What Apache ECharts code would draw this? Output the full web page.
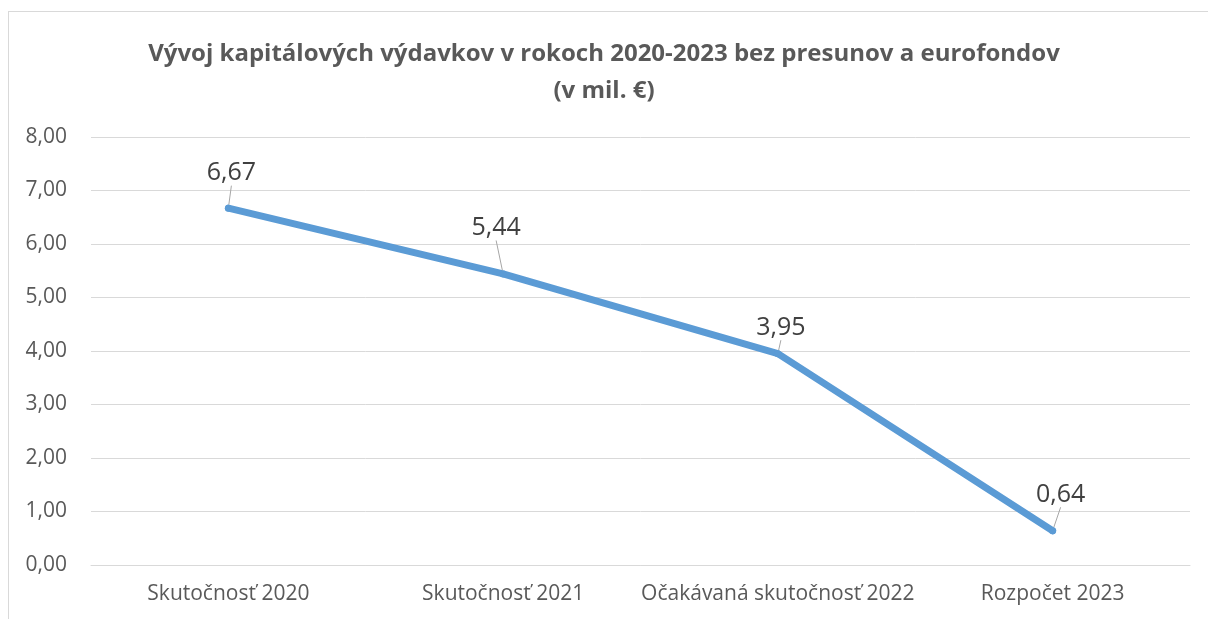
<!DOCTYPE html>
<html>
<head>
<meta charset="utf-8">
<script src="https://cdn.jsdelivr.net/npm/echarts@6/dist/echarts.min.js"></script>
<style>
  html, body { margin: 0; padding: 0; background: #fff; overflow: hidden; }
  #frame { position: absolute; left: 8px; top: 11px; right: 0; bottom: 0; border-left: 1px solid #d9d9d9; border-top: 1px solid #d9d9d9; }
  #chart { position: absolute; left: 0; top: 0; width: 1208px; height: 619px; }
</style>
</head>
<body>
<div id="frame"></div>
<div id="chart"></div>
<script>
const categories = ['Skutočnosť 2020', 'Skutočnosť 2021', 'Očakávaná skutočnosť 2022', 'Rozpočet 2023']
const values = [6.67, 5.44, 3.95, 0.64]
const yTicks = { min: 0, max: 8, interval: 1 }

// label nudges, so the leader lines look like the Excel original
const labelShift = [
  { dx: 3, dy: -11 },
  { dx: -7, dy: -22 },
  { dx: 3, dy: -2 },
  { dx: 8, dy: -12 },
]

const fmt = (v) => v.toFixed(2).replace('.', ',')

const chart = echarts.init(document.getElementById('chart'))

const option = {
  animation: false,
  title: {
    text: 'Vývoj kapitálových výdavkov v rokoch 2020-2023 bez presunov a eurofondov\n(v mil. €)',
    left: 'center',
    top: 31,
    textStyle: {
      fontFamily: 'Open Sans',
      fontSize: 24,
      fontWeight: 'bold',
      color: '#595959',
      lineHeight: 37,
    },
  },
  grid: {
    left: 91,
    right: 18,
    top: 137,
    bottom: 54,
  },
  xAxis: {
    type: 'category',
    data: categories,
    axisLine: { lineStyle: { color: '#d9d9d9', width: 1 } },
    axisTick: { show: false },
    axisLabel: {
      interval: 0,
      fontFamily: 'Open Sans',
      fontSize: 21,
      color: '#595959',
      margin: 19,
    },
  },
  yAxis: {
    type: 'value',
    min: yTicks.min,
    max: yTicks.max,
    interval: yTicks.interval,
    axisLine: { show: false },
    axisTick: { show: false },
    splitLine: { lineStyle: { color: '#d9d9d9', width: 1 } },
    axisLabel: {
      fontFamily: 'Open Sans',
      fontSize: 21,
      color: '#595959',
      margin: 24,
      formatter: (v) => fmt(v),
    },
  },
  series: [
    {
      type: 'line',
      data: values,
      symbol: 'circle',
      symbolSize: 7,
      itemStyle: { color: '#5B9BD5' },
      lineStyle: { color: '#5B9BD5', width: 7, cap: 'round', join: 'round' },
      label: {
        show: true,
        position: 'top',
        distance: 8,
        fontFamily: 'Open Sans',
        fontSize: 25,
        color: '#404040',
        formatter: (p) => fmt(p.value),
      },
      labelLine: {
        show: true,
        lineStyle: { color: '#a6a6a6', width: 1 },
      },
      labelLayout: (params) => labelShift[params.dataIndex],
    },
  ],
}

chart.setOption(option)
</script>
</body>
</html>
